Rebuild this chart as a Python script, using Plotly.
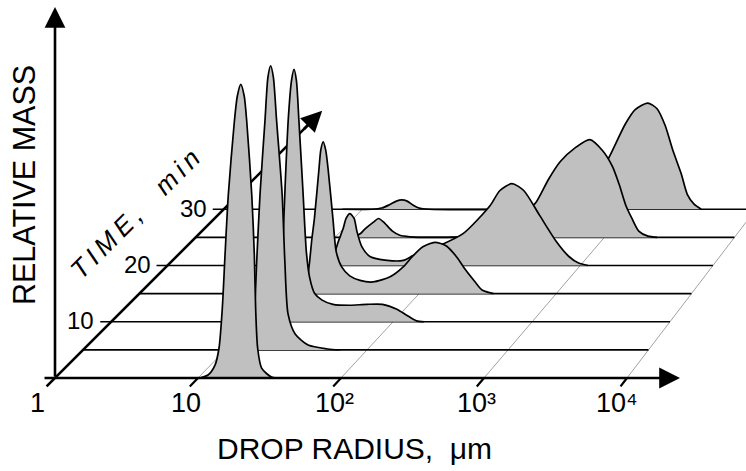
import numpy as np
import plotly.graph_objects as go

# ---------------- data ----------------
TIMES = [0, 5, 10, 15, 20, 25, 30]          # min
TIME_TICKS = [10, 20, 30]
DECADES = [0, 1, 2, 3, 4]                    # log10(radius / um)
DECADE_LABELS = ["1", "10", "10\u00b2", "10\u00b3", "10\u2074"]

# drop radius (um) and relative mass for each time slice
R_T0 = [10.3, 11.75, 13.15, 14.03, 14.79, 15.45, 16.29, 17.95, 18.84, 19.91, 21.04,
        21.93, 23.77, 24.77, 25.29, 26.12, 27.86, 32.73, 40.55]
M_T0 = [0, 0.010, 0.043, 0.100, 0.233, 0.410, 0.610, 0.854, 0.94, 0.979, 0.94,
        0.854, 0.610, 0.410, 0.233, 0.100, 0.033, 0.003, 0]

R_T5 = [12.71, 14.22, 15.42, 16.07, 16.63, 17.54, 19.01, 19.95, 20.84, 21.78, 22.96,
        25.12, 26.24, 27.67, 31.05, 38.3, 52.8, 64.1]
M_T5 = [0, 0.006, 0.036, 0.136, 0.297, 0.519, 0.764, 0.909, 0.947, 0.909, 0.764,
        0.519, 0.297, 0.119, 0.053, 0.016, 0.003, 0]

R_T10 = [12.29, 13.75, 15.14, 15.78, 16.32, 16.98, 17.87, 18.84, 19.63, 20.42, 21.24,
         22.75, 24.04, 25.35, 27.48, 31.12, 37.15, 48.87, 64.86, 83.9, 106.4, 125.0,
         146.9, 167.1]
M_T10 = [0, 0.005, 0.028, 0.098, 0.248, 0.455, 0.676, 0.804, 0.841, 0.804, 0.676,
         0.432, 0.232, 0.148, 0.095, 0.072, 0.058, 0.055, 0.058, 0.058, 0.042, 0.022,
         0.003, 0]

R_T15 = [12.69, 14.19, 15.38, 16.14, 16.87, 17.58, 18.97, 19.54, 20.32, 21.18, 22.03,
         23.88, 25.23, 27.61, 31.55, 37.41, 46.45, 61.66, 76.7, 88.7, 106.4, 130.0,
         157.8, 189.7, 215.8, 251.8, 286.4, 347.5]
M_T15 = [0, 0.006, 0.032, 0.096, 0.183, 0.250, 0.417, 0.479, 0.506, 0.479, 0.417,
         0.250, 0.139, 0.089, 0.059, 0.044, 0.039, 0.056, 0.089, 0.122, 0.156, 0.171,
         0.159, 0.119, 0.081, 0.042, 0.012, 0]

R_T20 = [12.08, 13.30, 14.66, 15.63, 16.67, 18.07, 18.97, 20.23, 21.68, 22.75, 24.66,
         28.25, 37.67, 49.43, 58.08, 67.92, 80.5, 91.6, 136.1, 214.3, 253.0, 310.5,
         379.3, 497.7, 662.2, 822.2, 970.5, 1140]
M_T20 = [0, 0.002, 0.013, 0.040, 0.080, 0.123, 0.157, 0.173, 0.157, 0.113, 0.063,
         0.030, 0.017, 0.017, 0.033, 0.047, 0.057, 0.067, 0.107, 0.200, 0.250, 0.273,
         0.250, 0.167, 0.080, 0.030, 0.008, 0]

R_T25 = [12.25, 13.93, 15.35, 16.63, 19.05, 20.75, 22.86, 23.88, 26.55, 29.72, 35.24,
         49.2, 116.4, 150.7, 212.3, 252.5, 306.9, 377.6, 462.4, 602.6, 774.5, 970.5,
         1153, 1297, 1452, 1622, 1828, 2148, 2523]
M_T25 = [0, 0.003, 0.013, 0.029, 0.051, 0.063, 0.049, 0.040, 0.019, 0.007, 0.002,
         0, 0.005, 0.014, 0.043, 0.079, 0.119, 0.193, 0.252, 0.299, 0.326, 0.289,
         0.236, 0.176, 0.108, 0.063, 0.021, 0.004, 0]

R_T30 = [7.16, 11.75, 13.87, 15.78, 17.78, 19.45, 21.33, 23.5, 26.06, 30.62, 184.5,
         250.6, 346.7, 492.0, 604, 719.4, 948.4, 1127, 1409, 1667, 1928, 2203, 2570,
         2877, 3243, 3690]
M_T30 = [0, 0, 0.004, 0.015, 0.027, 0.031, 0.027, 0.014, 0.004, 0, 0,
         0.004, 0.019, 0.067, 0.119, 0.179, 0.285, 0.332, 0.354, 0.335, 0.279, 0.199,
         0.119, 0.049, 0.017, 0]

SERIES = {0: (R_T0, M_T0), 5: (R_T5, M_T5), 10: (R_T10, M_T10), 15: (R_T15, M_T15),
          20: (R_T20, M_T20), 25: (R_T25, M_T25), 30: (R_T30, M_T30)}

# ---------------- oblique projection (layout constants) ----------------
W, H = 746, 471
X0_PX, Y0_PX = 55.0, 378.0      # pixel position of the origin
PX_DEC = 143.0                  # pixels per decade of radius
PX_MIN = 5.625                  # pixels per minute along the time axis
PX_MASS = 300.0                 # pixels per unit of relative mass


def slant(L):
    return 1.0 - 0.015 * L - 0.011 * L ** 2


def proj(L, t, m=0.0):
    L = np.asarray(L, dtype=float)
    X = L + np.asarray(t) * PX_MIN * slant(L) / PX_DEC
    Y = np.asarray(m, dtype=float) + np.asarray(t) * PX_MIN / PX_MASS
    return X, Y


FONT = "Liberation Sans, Arial, sans-serif"
GRAY_FILL = "#c0c0c0"
LINE_W = 1.7

fig = go.Figure()


def add_line(xs, ys, color="black", width=LINE_W):
    fig.add_trace(go.Scatter(x=list(np.atleast_1d(xs)), y=list(np.atleast_1d(ys)),
                             mode="lines", line=dict(color=color, width=width),
                             hoverinfo="skip", showlegend=False))


# thin oblique grid lines on the floor (decades)
for L in DECADES[1:]:
    xs, ys = proj([L, L], [0, max(TIMES)])
    add_line(xs, ys, color="#8a8a8a", width=0.8)

# time axis line (behind the peaks)
T_AXIS_END = 45.5
xs, ys = proj([0, 0], [-1.5, T_AXIS_END])
add_line(xs, ys, width=2.6)

# floor lines and curves, back to front
for t in sorted(TIMES, reverse=True):
    if t > 0:
        xl, yl = proj(0, t)
        xr, yr = proj(DECADES[-1], t)
        start = xl - (11.0 / PX_DEC if t in TIME_TICKS else 0.0)
        add_line([start, xr], [yl, yr], width=LINE_W)
    r, m = SERIES[t]
    X, Y = proj(np.log10(r), t, m)
    fig.add_trace(go.Scatter(x=list(X), y=list(Y), mode="lines", fill="toself",
                             fillcolor=GRAY_FILL,
                             line=dict(color="black", width=LINE_W, shape="spline",
                                       smoothing=0.7),
                             hoverinfo="skip", showlegend=False))

# decade ticks below the radius axis
for L in DECADES[1:]:
    xs, ys = proj([L, L], [-1.5, 0])
    add_line(xs, ys, width=2.2)

annotations = []
ARROW = dict(showarrow=True, arrowhead=2, arrowsize=1.6, arrowwidth=2.6,
             arrowcolor="black", standoff=0, text="", axref="x", ayref="y",
             xref="x", yref="y")

# vertical (relative mass) axis
annotations.append(dict(x=0, y=(Y0_PX - 7) / PX_MASS, ax=0, ay=0, **ARROW))
# radius axis
annotations.append(dict(x=(680 - X0_PX) / PX_DEC, y=0, ax=-12 / PX_DEC, ay=0, **ARROW))
# time axis arrow head
tx, ty = proj(0, 47.5)
hx, hy = proj(0, 44.0)
annotations.append(dict(x=float(tx), y=float(ty), ax=float(hx), ay=float(hy), **ARROW))

# radius tick labels
LABEL_XSHIFT = [-18, -12, -7, -8, -10]
for L, lab, dx in zip(DECADES, DECADE_LABELS, LABEL_XSHIFT):
    annotations.append(dict(x=L, y=0, xref="x", yref="y", text=lab, showarrow=False,
                            xanchor="center", yanchor="middle", xshift=dx, yshift=-25,
                            font=dict(family=FONT, size=27, color="black")))

# time tick labels
for t in TIME_TICKS:
    xl, yl = proj(0, t)
    annotations.append(dict(x=float(xl), y=float(yl), xref="x", yref="y", text=str(t),
                            showarrow=False, xanchor="right", yanchor="middle",
                            xshift=-15, yshift=1,
                            font=dict(family=FONT, size=24, color="black")))

# axis titles
annotations.append(dict(x=(354 - X0_PX) / PX_DEC, y=(Y0_PX - 448) / PX_MASS, xref="x",
                        yref="y", text="DROP RADIUS,  \u03bcm", showarrow=False,
                        xanchor="center", yanchor="middle",
                        font=dict(family=FONT, size=30, color="black")))
annotations.append(dict(x=(24 - X0_PX) / PX_DEC, y=(Y0_PX - 185) / PX_MASS, xref="x",
                        yref="y", text="RELATIVE MASS", showarrow=False, textangle=-90,
                        xanchor="center", yanchor="middle",
                        font=dict(family=FONT, size=30.5, color="black")))
annotations.append(dict(x=(137 - X0_PX) / PX_DEC, y=(Y0_PX - 212) / PX_MASS, xref="x",
                        yref="y",
                        text="<span style='letter-spacing:5px'>TIME,  min</span>",
                        showarrow=False, textangle=-45,
                        xanchor="center", yanchor="middle",
                        font=dict(family=FONT, size=26, color="black", style="italic")))

fig.update_layout(
    width=W, height=H, margin=dict(l=0, r=0, t=0, b=0),
    paper_bgcolor="white", plot_bgcolor="white", showlegend=False,
    xaxis=dict(visible=False, range=[-X0_PX / PX_DEC, (W - X0_PX) / PX_DEC],
               fixedrange=True),
    yaxis=dict(visible=False, range=[(Y0_PX - H) / PX_MASS, Y0_PX / PX_MASS],
               fixedrange=True),
    annotations=annotations,
)

fig.write_html("out.html")
